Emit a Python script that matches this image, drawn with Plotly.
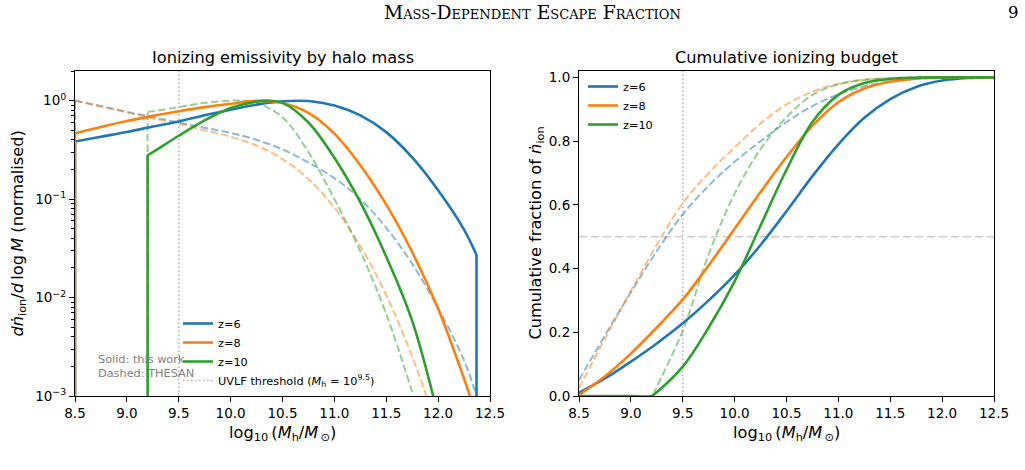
import plotly.graph_objects as go

W, H = 1025, 470
FONT = "DejaVu Sans"

# ---------------- data ----------------
# Left panel: normalised d n_ion / d log M  (0 = no emission)
m_sol_z6 = [8.5, 8.5, 8.75, 9.0, 9.25, 9.5, 9.75, 10.0, 10.25, 10.5, 10.75, 11.0, 11.25, 11.5, 11.75, 12.0, 12.25, 12.37, 12.37]
em_sol_z6 = [0, 0.385, 0.43, 0.48, 0.545, 0.615, 0.71, 0.81, 0.91, 0.985, 0.99, 0.89, 0.708, 0.479, 0.265, 0.123, 0.049, 0.027, 0]
m_sol_z8 = [8.5, 8.5, 8.75, 9.0, 9.25, 9.5, 9.75, 10.0, 10.25, 10.5, 10.75, 11.0, 11.25, 11.5, 11.75, 12.0, 12.25, 12.37, 12.37]
em_sol_z8 = [0, 0.465, 0.54, 0.62, 0.70, 0.78, 0.86, 0.93, 0.995, 0.945, 0.75, 0.462, 0.221, 0.088, 0.029, 0.0077, 0.0015, 0.00063, 0]
m_sol_z10 = [9.2, 9.2, 9.25, 9.5, 9.75, 10.0, 10.25, 10.35, 10.5, 10.75, 11.0, 11.25, 11.5, 11.75, 12.0]
em_sol_z10 = [0, 0.28, 0.30, 0.44, 0.63, 0.84, 0.98, 1.0, 0.95, 0.6, 0.263, 0.093, 0.026, 0.0058, 0.00063]

m_th_z6 = [8.5, 8.5, 8.75, 9.0, 9.25, 9.5, 9.75, 10.0, 10.25, 10.5, 10.75, 11.0, 11.25, 11.5, 11.75, 12.0, 12.25, 12.37]
em_th_z6 = [0, 1.0, 0.88, 0.77, 0.68, 0.6, 0.53, 0.47, 0.4, 0.32, 0.235, 0.163, 0.1, 0.051, 0.022, 0.0078, 0.0023, 0.001]
m_th_z8 = [8.5, 8.5, 8.75, 9.0, 9.25, 9.5, 9.75, 10.0, 10.25, 10.5, 10.75, 11.0, 11.25, 11.5, 11.75, 12.0]
em_th_z8 = [0, 1.0, 0.87, 0.76, 0.66, 0.58, 0.5, 0.43, 0.35, 0.255, 0.16, 0.082, 0.0334, 0.0106, 0.0025, 0.00046]
m_th_z10 = [9.2, 9.2, 9.25, 9.5, 9.75, 10.0, 10.1, 10.25, 10.5, 10.75, 11.0, 11.25, 11.5, 11.75]
em_th_z10 = [0, 0.77, 0.78, 0.86, 0.95, 1.0, 1.0, 0.95, 0.676, 0.30, 0.1, 0.0295, 0.0068, 0.0011]

# Right panel: cumulative fraction of n_ion
m_cum = [8.5, 8.75, 9.0, 9.25, 9.5, 9.75, 10.0, 10.25, 10.5, 10.75, 11.0, 11.25, 11.5, 11.75, 12.0, 12.25, 12.5]
cum_sol_z6 = [0.01, 0.055, 0.108, 0.165, 0.228, 0.3, 0.38, 0.474, 0.58, 0.69, 0.79, 0.873, 0.932, 0.97, 0.99, 0.998, 1.0]
cum_sol_z8 = [0.003, 0.062, 0.133, 0.215, 0.303, 0.41, 0.525, 0.64, 0.75, 0.848, 0.922, 0.965, 0.986, 0.996, 0.999, 1.0, 1.0]
cum_th_z6 = [0.05, 0.19, 0.325, 0.455, 0.57, 0.66, 0.735, 0.80, 0.86, 0.91, 0.947, 0.972, 0.988, 0.996, 0.999, 1.0, 1.0]
cum_th_z8 = [0.025, 0.18, 0.33, 0.475, 0.605, 0.70, 0.78, 0.855, 0.915, 0.955, 0.98, 0.993, 0.998, 1.0, 1.0, 1.0, 1.0]
m_cum10 = [8.5, 8.75, 9.0, 9.2, 9.25, 9.5, 9.75, 10.0, 10.25, 10.5, 10.75, 11.0, 11.25, 11.5, 11.75, 12.0, 12.25, 12.5]
cum_sol_z10 = [0, 0, 0, 0, 0.012, 0.092, 0.215, 0.36, 0.535, 0.71, 0.86, 0.945, 0.982, 0.995, 0.999, 1.0, 1.0, 1.0]
cum_th_z10 = [0, 0, 0, 0, 0.03, 0.205, 0.445, 0.635, 0.775, 0.875, 0.945, 0.978, 0.992, 0.997, 1.0, 1.0, 1.0, 1.0]

labels = ["z=6", "z=8", "z=10"]
colors = ["#1f77b4", "#ff7f0e", "#2ca02c"]
uvlf_threshold = 9.5
half_level = 0.5
x_ticks = [8.5, 9.0, 9.5, 10.0, 10.5, 11.0, 11.5, 12.0, 12.5]
y_ticks_log = [1e-3, 1e-2, 1e-1, 1.0]
y_ticks_log_text = ["10<sup>−3</sup>", "10<sup>−2</sup>", "10<sup>−1</sup>", "10<sup>0</sup>"]
y_ticks_cum = [0.0, 0.2, 0.4, 0.6, 0.8, 1.0]

# ---------------- layout helpers ----------------
def fx(px):
    return px / W

def fy(py):
    return 1 - py / H

LOG_FLOOR = 1e-9

def floor0(vals):
    return [v if v > 0 else LOG_FLOOR for v in vals]

fig = go.Figure()

DASH = "7.5px,3.2px"
SW, DW = 2.6, 2.0


def add_log_series(x, y, color, width, dash=None, opacity=1.0, name=None, legend=None):
    """Smooth curve through non-zero points; straight drops where emission switches to zero."""
    nz = [i for i, v in enumerate(y) if v > 0]
    i0, i1 = nz[0], nz[-1]
    line = dict(color=color, width=width)
    if dash:
        line["dash"] = dash
    segs = []
    if i0 > 0:
        segs.append((x[i0 - 1:i0 + 1], y[i0 - 1:i0 + 1]))
    if i1 < len(y) - 1:
        segs.append((x[i1:i1 + 2], y[i1:i1 + 2]))
    for sx, sy in segs:
        fig.add_trace(go.Scatter(x=sx, y=floor0(sy), mode="lines", line=line, opacity=opacity,
                                 showlegend=False, xaxis="x", yaxis="y", hoverinfo="skip"))
    fig.add_trace(go.Scatter(x=x[i0:i1 + 1], y=y[i0:i1 + 1], mode="lines", line=dict(line, shape="spline"),
                             opacity=opacity, name=name, showlegend=name is not None,
                             legend=legend or "legend", xaxis="x", yaxis="y"))


sol_left = [(m_sol_z6, em_sol_z6), (m_sol_z8, em_sol_z8), (m_sol_z10, em_sol_z10)]
th_left = [(m_th_z6, em_th_z6), (m_th_z8, em_th_z8), (m_th_z10, em_th_z10)]
sol_right = [(m_cum, cum_sol_z6), (m_cum, cum_sol_z8), (m_cum10, cum_sol_z10)]
th_right = [(m_cum, cum_th_z6), (m_cum, cum_th_z8), (m_cum10, cum_th_z10)]

for (x, y), c in zip(th_left, colors):
    add_log_series(x, y, c, DW, dash=DASH, opacity=0.5)
for (x, y), c, lab in zip(sol_left, colors, labels):
    add_log_series(x, y, c, SW, name=lab, legend="legend")
fig.add_trace(go.Scatter(x=[None], y=[None], mode="lines",
                         line=dict(color="rgba(128,128,128,0.6)", width=1.5, dash="1.5px,2.5px"),
                         name="UVLF threshold (<i>M</i><sub>h</sub> = 10<sup>9.5</sup>)",
                         legend="legend", xaxis="x", yaxis="y"))

for (x, y), c in zip(th_right, colors):
    fig.add_trace(go.Scatter(x=x, y=y, mode="lines", line=dict(color=c, width=DW, dash=DASH, shape="spline"),
                             opacity=0.5, showlegend=False, xaxis="x2", yaxis="y2", hoverinfo="skip"))
for (x, y), c, lab in zip(sol_right, colors, labels):
    fig.add_trace(go.Scatter(x=x, y=y, mode="lines", line=dict(color=c, width=SW, shape="spline"),
                             name=lab, legend="legend2", xaxis="x2", yaxis="y2"))

# reference lines
for xa, ya in (("x", "y"), ("x2", "y2")):
    fig.add_shape(type="line", xref=xa, yref=ya + " domain", x0=uvlf_threshold, x1=uvlf_threshold,
                  y0=0, y1=1, line=dict(color="rgba(128,128,128,0.6)", width=1.5, dash="1.5px,2.5px"),
                  layer="below")
fig.add_shape(type="line", xref="x2 domain", yref="y2", x0=0, x1=1, y0=half_level, y1=half_level,
              line=dict(color="rgba(200,200,200,0.9)", width=1.4, dash="8px,4px"), layer="below")

axis_common = dict(showline=True, linecolor="black", linewidth=1.05, mirror=True, ticks="outside",
                   ticklen=5, tickwidth=1, tickcolor="black", showgrid=False, zeroline=False,
                   automargin=False, tickfont=dict(family=FONT, size=13.5, color="black"))

yd = [fy(396), fy(71)]
fig.update_layout(
    template="none",
    width=W, height=H, margin=dict(l=0, r=0, t=0, b=0, pad=0, autoexpand=False),
    paper_bgcolor="white", plot_bgcolor="white",
    font=dict(family=FONT, color="black"),
    xaxis=dict(domain=[fx(75), fx(490)], range=[8.5, 12.5], tickvals=x_ticks,
               ticktext=[f"{v:.1f}" for v in x_ticks], anchor="y", **axis_common),
    yaxis=dict(domain=yd, type="log", range=[-3, 0.30103], tickvals=y_ticks_log, ticktext=y_ticks_log_text,
               anchor="x",
               minor=dict(ticks="outside", ticklen=2.7, tickwidth=0.8, tickcolor="black",
                          tickvals=[k * d for d in (1e-3, 1e-2, 1e-1, 1.0) for k in range(2, 10)]),
               **axis_common),
    xaxis2=dict(domain=[fx(579), fx(994)], range=[8.5, 12.5], tickvals=x_ticks,
                ticktext=[f"{v:.1f}" for v in x_ticks], anchor="y2", **axis_common),
    yaxis2=dict(domain=yd, range=[0, 1.02], tickvals=y_ticks_cum,
                ticktext=[f"{v:.1f}" for v in y_ticks_cum], anchor="x2", **axis_common),
    legend=dict(x=fx(178), y=fy(309), xanchor="left", yanchor="top", bgcolor="rgba(0,0,0,0)",
                font=dict(family=FONT, size=11.3, color="black"), itemwidth=30, tracegroupgap=0),
    legend2=dict(x=fx(583), y=fy(72), xanchor="left", yanchor="top", bgcolor="rgba(0,0,0,0)",
                 font=dict(family=FONT, size=11.3, color="black"), itemwidth=30, tracegroupgap=0),
    showlegend=True,
)

ann = []
def add_text(text, x, y, size, xanchor="center", yanchor="middle", angle=0, color="black",
             family=FONT, align="center", variant="normal"):
    ann.append(dict(text=text, x=fx(x), y=fy(y), xref="paper", yref="paper", showarrow=False,
                    xanchor=xanchor, yanchor=yanchor, textangle=angle, align=align,
                    font=dict(family=family, size=size, color=color, variant=variant)))

add_text("Ionizing emissivity by halo mass", 282.5, 57, 16.2)
add_text("Cumulative ionizing budget", 786.5, 57, 16.2)
xlab = "log<sub>10</sub>\u2009(<i>M</i><sub>h</sub>/<i>M</i><sub>\u2009⊙</sub>)"
add_text(xlab, 282.5, 433, 16.2)
add_text(xlab, 786.5, 433, 16.2)
add_text("<i>dṅ</i><sub>ion</sub>/<i>d</i>\u2009log\u2009<i>M</i> (normalised)", 18, 233.5, 16.2, angle=-90)
add_text("Cumulative fraction of <i>ṅ</i><sub>ion</sub>", 536, 233.5, 16.2, angle=-90)
add_text("Solid: this work", 96, 359.5, 11.3, xanchor="left", color="gray", align="left")
add_text("Dashed: THESAN", 96, 373, 11.3, xanchor="left", color="gray", align="left")

SERIF = "DejaVu Serif"
add_text("Mass-Dependent Escape Fraction", 532, 13, 18.8, family=SERIF, variant="small-caps")
add_text("9", 1013, 13, 16.5, family=SERIF)

fig.update_layout(annotations=ann)
fig.write_html("out.html")
